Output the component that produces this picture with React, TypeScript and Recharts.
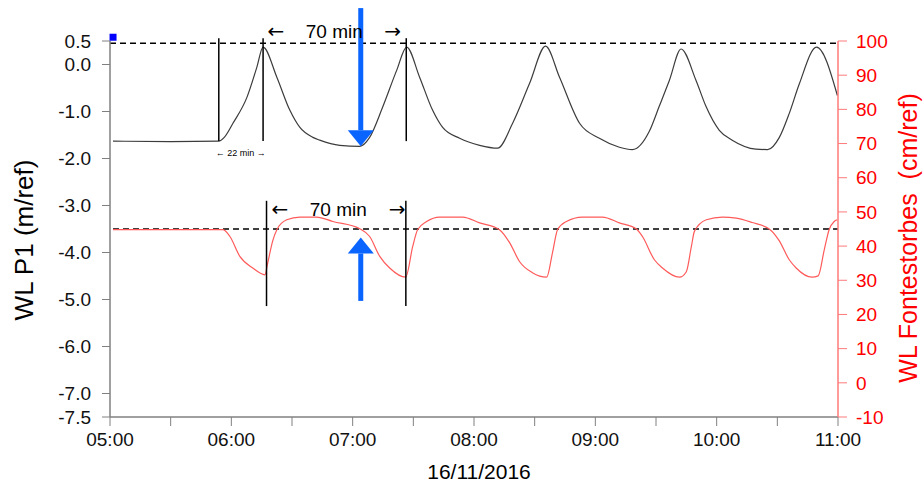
import React from "react";
import {
  Customized,
  Line,
  LineChart,
  ReferenceDot,
  ReferenceLine,
  XAxis,
  YAxis,
} from "recharts";

// minutes after 05:00 on 16/11/2016
const p1Minutes = [
  1.5, 30, 53.8, 56.5, 60.8, 67.7, 72.6, 75.7, 82.5, 88.9, 93.9, 100.3, 103.7,
  113.6, 123.5, 128.4, 134.8, 141.8, 146.7, 153.1, 159.5, 164.5, 172.9, 182.8,
  191.7, 199.1, 207.5, 215.4, 222.3, 232.2, 242.0, 251.9, 258.3, 266.7, 271.6,
  276.6, 282.4, 289.8, 294.7, 301.3, 307.7, 319.4, 325.2, 331.0, 335.9, 340.8,
  349.4, 359.7,
];
// WL P1 (m/ref)
const p1Values = [
  -1.63, -1.64, -1.63, -1.55, -1.25, -0.7, -0.06, 0.37, -0.27, -0.97, -1.34,
  -1.55, -1.61, -1.72, -1.74, -1.55, -0.91, -0.12, 0.37, -0.27, -0.97, -1.34,
  -1.57, -1.72, -1.78, -1.25, -0.4, 0.39, -0.27, -1.25, -1.57, -1.76, -1.81,
  -1.42, -0.89, -0.34, 0.33, -0.34, -0.89, -1.4, -1.61, -1.8, -1.81, -1.55,
  -1.04, -0.42, 0.37, -0.66,
];

const fontMinutes = [
  1.5, 30, 55.8, 59.3, 64.2, 70.6, 76.6, 78.0, 80.5, 82.5, 87.4, 93.9, 102.2,
  110.2, 123.5, 128.4, 133.4, 138.3, 146.2, 149.7, 152.1, 156.6, 163.0, 174.4,
  182.8, 192.6, 197.6, 202.5, 208.9, 215.9, 218.8, 221.3, 225.7, 233.6, 243.5,
  251.9, 260.3, 263.3, 269.2, 273.2, 281.6, 285.0, 287.5, 289.0, 294.9, 302.8,
  309.7, 317.6, 326.0, 330.9, 335.9, 339.3, 347.2, 350.2, 353.2, 355.6, 358.1,
  359.6,
];
// WL Fontestorbes (cm/ref)
const fontValues = [
  44.8, 44.8, 44.8, 42.8, 37.0, 33.6, 31.6, 35.1, 41.6, 44.8, 47.7, 48.5, 48.5,
  47.2, 45.1, 42.8, 37.0, 33.6, 30.9, 39.9, 44.8, 47.2, 48.5, 48.5, 46.8, 44.8,
  41.0, 35.5, 32.2, 30.9, 38.0, 44.8, 47.2, 48.5, 48.5, 46.8, 45.0, 42.8, 36.0,
  33.6, 30.9, 32.5, 39.9, 44.3, 47.7, 48.5, 48.2, 46.9, 45.0, 41.6, 36.0, 33.6,
  30.9, 31.3, 38.9, 44.8, 47.2, 47.7,
];

const timeTicks = [0, 30, 60, 90, 120, 150, 180, 210, 240, 270, 300, 330, 360];
const p1Ticks = [0.5, 0, -1, -2, -3, -4, -5, -6, -7, -7.5];
const fontTicks = [-10, 0, 10, 20, 30, 40, 50, 60, 70, 80, 90, 100];

// annotation positions (minutes / axis values)
const upperMarks = [53.8, 75.7, 146.5];
const lowerMarks = [77.4, 146.3];
const arrowMinute = 124;

const FONT = "'Liberation Sans', Arial, 'DejaVu Sans', sans-serif";
const ARROW_FONT = "'DejaVu Sans', sans-serif";
const BLUE = "#0a64ff";

const p1Data = p1Minutes.map((t, i) => ({ t, v: p1Values[i] }));
const fontData = fontMinutes.map((t, i) => ({ t, v: fontValues[i] }));

function fmtTime(m: number) {
  if (m % 60 !== 0) return "";
  const h = 5 + m / 60;
  return `${h < 10 ? "0" : ""}${h}:00`;
}

const textShape =
  (label: string, size: number, family: string) =>
  (p: any) =>
    (
      <text
        x={p.cx}
        y={p.cy}
        textAnchor="middle"
        dominantBaseline="central"
        fontSize={size}
        fontFamily={family}
        fill="#000"
      >
        {label}
      </text>
    );

function BlueArrow(p: any) {
  const { x1, y1, y2 } = p;
  const dir = y2 > y1 ? 1 : -1;
  const baseY = y2 - dir * 16;
  return (
    <g>
      <line x1={x1} y1={y1} x2={x1} y2={baseY} stroke={BLUE} strokeWidth={5} />
      <polygon
        points={`${x1 - 13},${baseY} ${x1 + 13},${baseY} ${x1},${y2}`}
        fill={BLUE}
      />
    </g>
  );
}

function Titles() {
  return (
    <g fontFamily={FONT}>
      <text
        transform="translate(24,240) rotate(-90)"
        textAnchor="middle"
        dominantBaseline="central"
        fontSize={26}
        fill="#000"
      >
        WL P1 (m/ref)
      </text>
      <text
        transform="translate(908,238) rotate(-90)"
        textAnchor="middle"
        dominantBaseline="central"
        fontSize={25}
        fill="#ff0000"
        style={{ whiteSpace: "pre" }}
      >
        WL Fontestorbes  (cm/ref)
      </text>
      <text
        x={479}
        y={471}
        textAnchor="middle"
        dominantBaseline="central"
        fontSize={21}
        fill="#000"
      >
        16/11/2016
      </text>
    </g>
  );
}

const notes: [string, number, number, number, string][] = [
  ["←", 82, 0.71, 20, ARROW_FONT],
  ["70 min", 110.9, 0.71, 19, FONT],
  ["→", 139.8, 0.71, 20, ARROW_FONT],
  ["←", 84, -3.08, 20, ARROW_FONT],
  ["70 min", 112.9, -3.08, 19, FONT],
  ["→", 142, -3.08, 20, ARROW_FONT],
  ["← 22 min →", 64.7, -1.88, 9, FONT],
];

export default function App() {
  return (
    <div style={{ position: "absolute", left: 0, top: 0, background: "#fff" }}>
      <LineChart
        width={924}
        height={482}
        margin={{ top: 41, right: 26, bottom: 25, left: 50 }}
      >
        <XAxis
          type="number"
          dataKey="t"
          domain={[0, 360]}
          ticks={timeTicks}
          tickFormatter={fmtTime}
          interval={0}
          height={40}
          tickSize={9}
          tickMargin={7}
          axisLine={{ stroke: "#808080", strokeWidth: 1.5 }}
          tickLine={{ stroke: "#808080" }}
          tick={{ fontSize: 19, fill: "#111", fontFamily: FONT }}
        />
        <YAxis
          yAxisId="left"
          orientation="left"
          type="number"
          domain={[-7.5, 0.5]}
          ticks={p1Ticks}
          interval={0}
          tickFormatter={(v: number) => v.toFixed(1)}
          width={60}
          tickSize={8}
          tickMargin={11}
          axisLine={{ stroke: "#808080", strokeWidth: 1.5 }}
          tickLine={{ stroke: "#808080" }}
          tick={{ fontSize: 19, fill: "#111", fontFamily: FONT }}
        />
        <YAxis
          yAxisId="right"
          orientation="right"
          type="number"
          domain={[-10, 100]}
          ticks={fontTicks}
          interval={0}
          width={60}
          tickSize={9}
          tickMargin={9}
          axisLine={{ stroke: "#ff7a7a", strokeWidth: 1.5 }}
          tickLine={{ stroke: "#ff7a7a" }}
          tick={{ fontSize: 19, fill: "#ff0000", fontFamily: FONT, textAnchor: "start" }}
        />

        <ReferenceLine
          yAxisId="left"
          segment={[{ x: 0, y: 0.45 }, { x: 360, y: 0.45 }]}
          stroke="#000"
          strokeWidth={1.5}
          strokeDasharray="6 4"
          ifOverflow="visible"
        />
        <ReferenceLine
          yAxisId="right"
          segment={[{ x: 1.5, y: 45 }, { x: 360, y: 45 }]}
          stroke="#000"
          strokeWidth={1.5}
          strokeDasharray="6 4"
          ifOverflow="visible"
        />

        <Line
          yAxisId="left"
          data={p1Data}
          dataKey="v"
          type="monotone"
          stroke="#3c3c3c"
          strokeWidth={1.2}
          dot={false}
          isAnimationActive={false}
        />
        <Line
          yAxisId="right"
          data={fontData}
          dataKey="v"
          type="monotone"
          stroke="#ff5a5a"
          strokeWidth={1.2}
          dot={false}
          isAnimationActive={false}
        />

        {upperMarks.map((m) => (
          <ReferenceLine
            key={`u${m}`}
            yAxisId="left"
            segment={[{ x: m, y: 0.56 }, { x: m, y: -1.63 }]}
            stroke="#000"
            strokeWidth={1.5}
            ifOverflow="visible"
          />
        ))}
        {lowerMarks.map((m) => (
          <ReferenceLine
            key={`l${m}`}
            yAxisId="left"
            segment={[{ x: m, y: -2.9 }, { x: m, y: -5.14 }]}
            stroke="#000"
            strokeWidth={1.5}
            ifOverflow="visible"
          />
        ))}

        {notes.map(([label, x, y, size, family], i) => (
          <ReferenceDot
            key={`n${i}`}
            yAxisId="left"
            x={x}
            y={y}
            r={0}
            ifOverflow="visible"
            shape={textShape(label, size, family)}
          />
        ))}

        <ReferenceLine
          yAxisId="left"
          segment={[{ x: arrowMinute, y: 1.2 }, { x: arrowMinute, y: -1.74 }]}
          ifOverflow="visible"
          shape={BlueArrow}
        />
        <ReferenceLine
          yAxisId="left"
          segment={[{ x: arrowMinute, y: -5.03 }, { x: arrowMinute, y: -3.68 }]}
          ifOverflow="visible"
          shape={BlueArrow}
        />
        <ReferenceDot
          yAxisId="left"
          x={1.5}
          y={0.58}
          r={0}
          ifOverflow="visible"
          shape={(p: any) => (
            <rect x={p.cx - 3.5} y={p.cy - 3.5} width={7} height={7} fill="#0000ff" />
          )}
        />

        <Customized component={Titles} />
      </LineChart>
    </div>
  );
}
